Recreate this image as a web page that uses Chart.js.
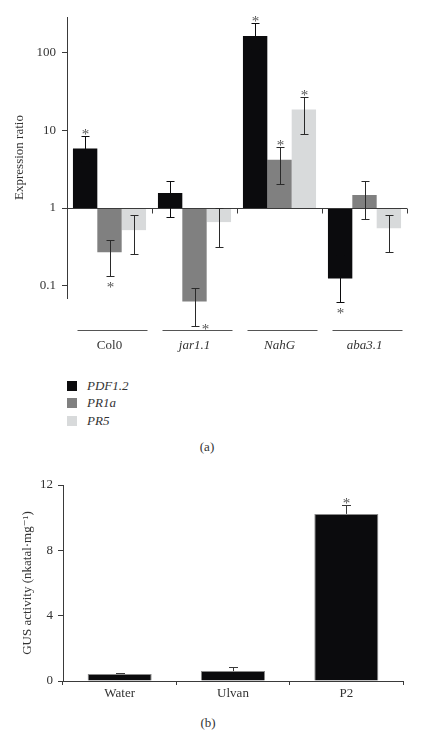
<!DOCTYPE html>
<html>
<head>
<meta charset="utf-8">
<script src="https://cdn.jsdelivr.net/npm/chart.js@4.4.1/dist/chart.umd.min.js"></script>
<style>
  body { margin: 0; width: 430px; height: 738px; background: #fff; position: relative; overflow: hidden;
         font-family: 'Liberation Serif', 'DejaVu Serif', serif; color: #333; }
  canvas { position: absolute; left: 0; }
  #chart-a { top: 0; }
  #chart-b { top: 460px; }
  .leg { position: absolute; left: 67px; height: 12px; display: flex; align-items: center; font-size: 13px; font-style: italic; }
  .leg span.sw { width: 10px; height: 10px; margin-right: 10px; }
  .cap { position: absolute; font-size: 13px; transform: translate(-50%, -50%); }
</style>
</head>
<body>
<canvas id="chart-a" width="430" height="360"></canvas>
<canvas id="chart-b" width="430" height="250"></canvas>

<div class="leg" style="top:380px"><span class="sw" style="background:#0b0b0d"></span>PDF1.2</div>
<div class="leg" style="top:397px"><span class="sw" style="background:#808080"></span>PR1a</div>
<div class="leg" style="top:415px"><span class="sw" style="background:#d8dadb"></span>PR5</div>
<div class="cap" style="left:207px;top:447px">(a)</div>
<div class="cap" style="left:208px;top:723px">(b)</div>

<script>
/* (a) expression ratios, log scale, bars grow from 1 */
const groups = ['Col0', 'jar1.1', 'NahG', 'aba3.1'];
const pdf    = [5.8, 1.56, 161, 0.125];
const pdfHi  = [8.5, 2.23, 237, 0.25];
const pdfLo  = [3.9, 0.77, 110, 0.063];
const pdfStar = ['top', '', 'top', 'bottom'];
const pr1a    = [0.27, 0.063, 4.16, 1.47];
const pr1aHi  = [0.39, 0.093, 6.1, 2.23];
const pr1aLo  = [0.133, 0.031, 2.04, 0.72];
const pr1aStar = ['bottom', 'right', 'top', ''];
const pr5    = [0.52, 0.66, 18.4, 0.55];
const pr5Hi  = [0.81, 1.0, 26.3, 0.81];
const pr5Lo  = [0.26, 0.32, 9.0, 0.27];
const pr5Star = ['', '', 'top', ''];
const logTicks = [0.1, 1, 10, 100];

/* (b) GUS activity */
const treatments = ['Water', 'Ulvan', 'P2'];
const gus    = [0.43, 0.61, 10.23];
const gusErr = [0.06, 0.25, 0.55];
const gusStar = [false, false, true];

const SERIF = "'Liberation Serif', 'DejaVu Serif', serif";
const INK = '#3a3a3a';

function line(ctx, x1, y1, x2, y2) {
  ctx.beginPath(); ctx.moveTo(x1, y1); ctx.lineTo(x2, y2); ctx.stroke();
}

function star(ctx, x, y) {
  ctx.save();
  ctx.fillStyle = '#555';
  ctx.font = '15px ' + SERIF;
  ctx.textAlign = 'center';
  ctx.textBaseline = 'alphabetic';
  ctx.fillText('*', x, y);
  ctx.restore();
}

const decorA = {
  id: 'decorA',
  afterDatasetsDraw(chart) {
    const { ctx, chartArea: area } = chart;
    const x = chart.scales.x, y = chart.scales.y;
    ctx.save();
    ctx.strokeStyle = INK;
    ctx.lineWidth = 1;

    // baseline at 1 with ticks between groups
    const y1 = Math.round(y.getPixelForValue(1)) + 0.5;
    line(ctx, area.left, y1, area.right, y1);
    const w = (area.right - area.left) / groups.length;
    for (let i = 1; i <= groups.length; i++) {
      const bx = Math.round(area.left + i * w) + 0.5;
      line(ctx, bx, y1, bx, y1 + 5);
    }

    // lines under group names
    const uy = area.bottom + 32.5;
    ctx.strokeStyle = '#555';
    groups.forEach((g, i) => {
      const cx = x.getPixelForValue(i) + 3;
      line(ctx, cx - 35, uy, cx + 35, uy);
    });

    // error bars + asterisks
    chart.data.datasets.forEach((ds, di) => {
      ctx.strokeStyle = ds.errColor;
      chart.getDatasetMeta(di).data.forEach((bar, i) => {
        const bx = Math.round(bar.x) + 0.5;
        const hi = Math.round(y.getPixelForValue(ds.errHi[i])) + 0.5;
        const lo = Math.round(y.getPixelForValue(ds.errLo[i])) + 0.5;
        line(ctx, bx, hi, bx, lo);
        line(ctx, bx - 4, hi, bx + 4, hi);
        line(ctx, bx - 4, lo, bx + 4, lo);
        const s = ds.stars[i];
        if (s === 'top') star(ctx, bx, hi + 2);
        if (s === 'bottom') star(ctx, bx, lo + 15);
        if (s === 'right') star(ctx, bx + 10, lo + 7);
      });
    });
    ctx.restore();
  }
};

new Chart(document.getElementById('chart-a'), {
  type: 'bar',
  data: {
    labels: groups,
    datasets: [
      { label: 'PDF1.2', data: pdf.map(v => [1, v]), backgroundColor: '#0b0b0d', errColor: '#0b0b0d', errHi: pdfHi, errLo: pdfLo, stars: pdfStar },
      { label: 'PR1a', data: pr1a.map(v => [1, v]), backgroundColor: '#808080', errColor: '#2a2a2a', errHi: pr1aHi, errLo: pr1aLo, stars: pr1aStar },
      { label: 'PR5', data: pr5.map(v => [1, v]), backgroundColor: '#d8dadb', errColor: '#2a2a2a', errHi: pr5Hi, errLo: pr5Lo, stars: pr5Star },
    ]
  },
  options: {
    responsive: false,
    animation: false,
    clip: false,
    layout: { padding: { top: 17, right: 23, left: 0, bottom: 0 } },
    datasets: { bar: { categoryPercentage: 0.86, barPercentage: 1, clip: false } },
    plugins: { legend: { display: false }, tooltip: { enabled: false } },
    scales: {
      x: {
        grid: { display: false, drawTicks: false },
        border: { display: false },
        ticks: {
          padding: 40,
          color: '#333',
          font: (c) => ({ family: SERIF, size: 13, style: c.index > 0 ? 'italic' : 'normal' })
        },
        afterFit: (s) => { s.height = 62; }
      },
      y: {
        type: 'logarithmic',
        min: 0.07,
        max: 283,
        afterBuildTicks: (s) => { s.ticks = logTicks.map(v => ({ value: v })); },
        ticks: { color: '#333', padding: 6, font: { family: SERIF, size: 13 }, callback: (v) => String(v) },
        grid: { drawOnChartArea: false, tickLength: 5, color: INK },
        border: { color: INK },
        title: { display: true, text: 'Expression ratio', color: '#333', font: { family: SERIF, size: 13 }, padding: { top: 12 } },
        afterFit: (s) => { s.width = 67; }
      }
    }
  },
  plugins: [decorA]
});

const decorB = {
  id: 'decorB',
  afterDatasetsDraw(chart) {
    const { ctx } = chart;
    const y = chart.scales.y;
    ctx.save();
    ctx.strokeStyle = INK;
    ctx.lineWidth = 1;
    chart.getDatasetMeta(0).data.forEach((bar, i) => {
      const bx = Math.round(bar.x) + 0.5;
      const hi = Math.round(y.getPixelForValue(gus[i] + gusErr[i])) + 0.5;
      line(ctx, bx, bar.y, bx, hi);
      line(ctx, bx - 4.5, hi, bx + 4.5, hi);
      if (gusStar[i]) star(ctx, bx, hi + 2);
    });
    ctx.restore();
  }
};

new Chart(document.getElementById('chart-b'), {
  type: 'bar',
  data: {
    labels: treatments,
    datasets: [{ data: gus, backgroundColor: '#0b0b0d', borderColor: '#8a8a8a', borderWidth: 1, borderSkipped: 'bottom' }]
  },
  options: {
    responsive: false,
    animation: false,
    layout: { padding: { top: 25, right: 27, left: 0, bottom: 0 } },
    datasets: { bar: { categoryPercentage: 1, barPercentage: 0.565 } },
    plugins: { legend: { display: false }, tooltip: { enabled: false } },
    scales: {
      x: {
        grid: { offset: true, drawOnChartArea: false, tickLength: 4, color: INK },
        border: { color: INK },
        ticks: { color: '#333', padding: 1, font: { family: SERIF, size: 13 } },
        afterFit: (s) => { s.height = 29; }
      },
      y: {
        min: 0,
        max: 12,
        ticks: { stepSize: 4, color: '#333', padding: 5, font: { family: SERIF, size: 13 } },
        grid: { drawOnChartArea: false, tickLength: 5, color: INK },
        border: { color: INK },
        title: { display: true, text: 'GUS activity (nkatal·mg⁻¹)', color: '#333', font: { family: SERIF, size: 13 }, padding: { top: 20 } },
        afterFit: (s) => { s.width = 63; }
      }
    }
  },
  plugins: [decorB]
});
</script>
</body>
</html>
